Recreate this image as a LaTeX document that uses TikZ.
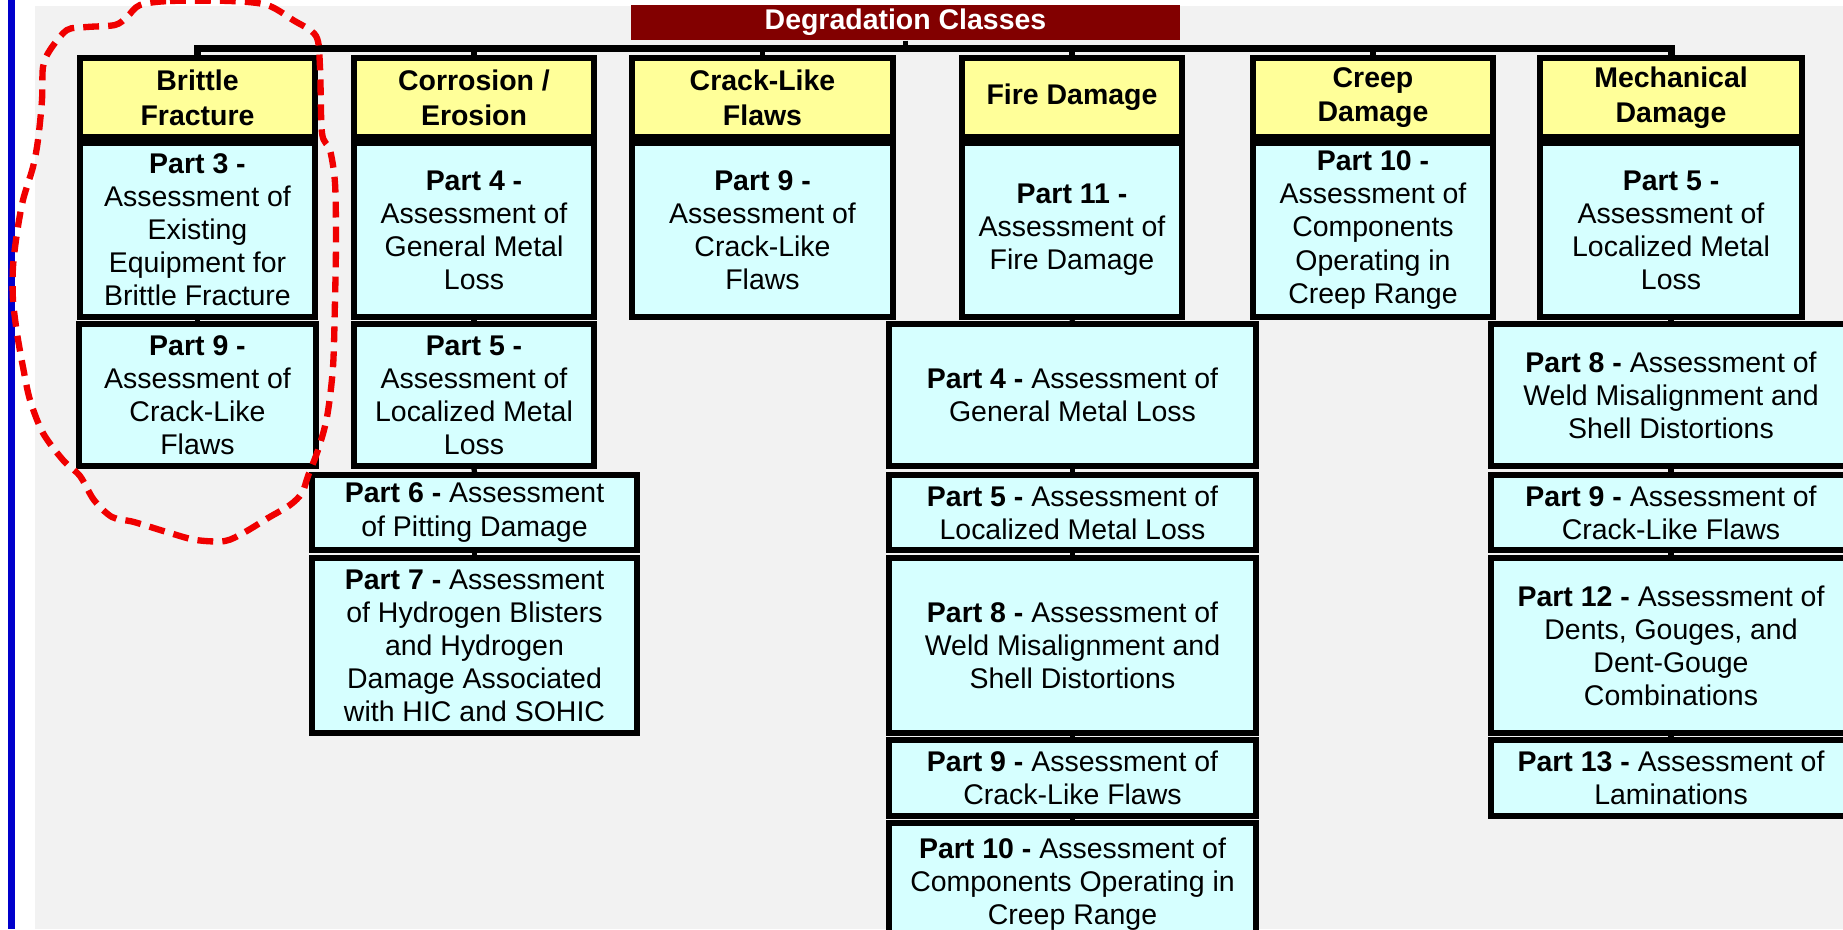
\documentclass[tikz,border=0pt]{standalone}
\usepackage{fontspec}
\setmainfont{Liberation Sans}
\definecolor{bggray}{HTML}{F2F2F2}
\definecolor{hdryellow}{HTML}{FFFF99}
\definecolor{partcyan}{HTML}{D6FFFF}
\definecolor{maroonbar}{HTML}{820000}
\definecolor{bluebar}{HTML}{0000CC}
\definecolor{loopred}{HTML}{F00000}
\newcommand{\chartfont}{\fontsize{8.1}{9.4}\selectfont}

\begin{document}
\begin{tikzpicture}[x=1mm, y=-1mm]
    % Styles for the degradation chart
    \tikzset{
        titlebar/.style={fill=maroonbar, text=white, font=\chartfont\bfseries, inner sep=0pt},
        hdr/.style={draw=black, line width=1.5pt, fill=hdryellow, font=\fontsize{8.1}{9.9}\selectfont\bfseries, align=center, inner sep=0pt},
        partbox/.style={draw=black, line width=1.5pt, fill=partcyan, font=\chartfont, align=center, inner sep=0pt},
        wire/.style={black, line width=1.5pt},
        bus/.style={black, line width=2pt},
        redloop/.style={loopred, line width=1.8pt, dash pattern=on 4.5pt off 2.6pt}
    }

    % Page, margins and the blue bar at the left
    \useasboundingbox (0,0) rectangle (184.3,92.9);
    \clip (0,0) rectangle (184.3,92.9);
    \fill[white] (0,0) rectangle (184.3,92.9);
    \fill[bggray] (3.5,0.6) rectangle (184.3,92.9);
    \fill[bluebar] (0.8,0) rectangle (1.45,92.9);

    \node[titlebar, minimum width=54.9mm, minimum height=3.5mm] (ttl) at (90.55,2.25) {Degradation Classes};

    % Class headers
    \foreach \nm/\cx/\bw/\txt in {
        bfH/19.75/23.5/{Brittle\\Fracture},
        ceH/47.4/24.0/{Corrosion /\\Erosion},
        clH/76.25/26.1/{Crack-Like\\Flaws},
        fdH/107.2/22.0/{Fire Damage},
        cdH/137.3/24.0/{Creep\\Damage},
        mdH/167.1/26.2/{Mechanical\\Damage}%
    } {
        \node[hdr, minimum width=\bw mm, minimum height=7.9mm] (\nm) at (\cx,9.75) {\txt};
    }

    % Assessment parts below each class
    \foreach \nm/\cx/\cy/\bw/\bh/\txt in {
        bf1/19.75/23.0/23.5/17.4/{\textbf{Part 3 -}\\Assessment of\\Existing\\Equipment for\\Brittle Fracture},
        bf2/19.75/39.5/23.7/14.2/{\textbf{Part 9 -}\\Assessment of\\Crack-Like\\Flaws},
        ce1/47.4/23.0/24.0/17.4/{\textbf{Part 4 -}\\Assessment of\\General Metal\\Loss},
        ce2/47.4/39.5/24.0/14.2/{\textbf{Part 5 -}\\Assessment of\\Localized Metal\\Loss},
        ce3/47.45/51.25/32.5/7.5/{\textbf{Part 6 -} Assessment\\of Pitting Damage},
        ce4/47.45/64.55/32.5/17.5/{\textbf{Part 7 -} Assessment\\of Hydrogen Blisters\\and Hydrogen\\Damage Associated\\with HIC and SOHIC},
        cl1/76.25/23.0/26.1/17.4/{\textbf{Part 9 -}\\Assessment of\\Crack-Like\\Flaws},
        fd1/107.2/23.0/22.0/17.4/{\textbf{Part 11 -}\\Assessment of\\Fire Damage},
        fd2/107.25/39.5/36.7/14.2/{\textbf{Part 4 -} Assessment of\\General Metal Loss},
        fd3/107.25/51.25/36.7/7.5/{\textbf{Part 5 -} Assessment of\\Localized Metal Loss},
        fd4/107.25/64.55/36.7/17.5/{\textbf{Part 8 -} Assessment of\\Weld Misalignment and\\Shell Distortions},
        fd5/107.25/77.8/36.7/7.6/{\textbf{Part 9 -} Assessment of\\Crack-Like Flaws},
        fd6/107.25/88.4/36.7/12.2/{\textbf{Part 10 -} Assessment of\\Components Operating in\\Creep Range},
        cd1/137.3/23.0/24.0/17.4/{\textbf{Part 10 -}\\Assessment of\\Components\\Operating in\\Creep Range},
        md1/167.1/23.0/26.2/17.4/{\textbf{Part 5 -}\\Assessment of\\Localized Metal\\Loss},
        md2/167.1/39.5/36.0/14.2/{\textbf{Part 8 -} Assessment of\\Weld Misalignment and\\Shell Distortions},
        md3/167.1/51.25/36.0/7.5/{\textbf{Part 9 -} Assessment of\\Crack-Like Flaws},
        md4/167.1/64.55/36.0/17.5/{\textbf{Part 12 -} Assessment of\\Dents, Gouges, and\\Dent-Gouge\\Combinations},
        md5/167.1/77.8/36.0/7.6/{\textbf{Part 13 -} Assessment of\\Laminations}%
    } {
        \node[partbox, minimum width=\bw mm, minimum height=\bh mm] (\nm) at (\cx,\cy) {\txt};
    }

    % Bus from the title to every class
    \coordinate (busY) at (0,4.85);
    \draw[bus] (bfH.north) -- (bfH.north |- busY) -| (mdH.north);
    \draw[wire] (ttl.south) -- (ttl.south |- busY);
    \foreach \h in {ceH,clH,fdH,cdH} {
        \draw[wire] (\h.north) -- (\h.north |- busY);
    }

    % Short stubs down each column
    \foreach \a/\b in {bfH/bf1, bf1/bf2, ceH/ce1, ce1/ce2, ce2/ce3, ce3/ce4, clH/cl1,
                       fdH/fd1, fd1/fd2, fd2/fd3, fd3/fd4, fd4/fd5, fd5/fd6, cdH/cd1,
                       mdH/md1, md1/md2, md2/md3, md3/md4, md4/md5} {
        \draw[wire] (\a.south) -- (\b.north);
    }

    % Hand-drawn loop round the brittle fracture column
    \draw[redloop] plot[smooth cycle] coordinates {
        (14.0,0.5) (17.0,0.1) (23.0,0.1) (26.7,0.5) (29.3,2.0) (31.6,3.6) (32.0,6.7)
        (32.2,13.3) (33.0,15.0) (33.5,18.3) (33.6,24.0) (33.5,30.0) (33.3,36.7)
        (32.7,41.7) (31.8,45.0) (30.8,47.6) (30.2,49.3) (29.0,50.5) (26.8,51.8)
        (24.5,53.2) (22.5,54.1) (19.6,54.0) (17.0,53.3) (13.4,52.2) (11.2,51.7)
        (9.4,50.0) (8.0,47.6) (6.3,46.0) (4.3,43.3) (3.0,40.0) (2.3,36.7) (1.7,33.3)
        (1.3,30.0) (1.3,26.7) (1.7,23.3) (2.3,20.0) (3.3,16.7) (3.8,14.0) (4.2,10.0)
        (4.3,6.7) (5.0,5.0) (6.7,3.0) (8.7,2.7) (11.5,2.5) (12.7,1.7)
    };
\end{tikzpicture}
\end{document}
